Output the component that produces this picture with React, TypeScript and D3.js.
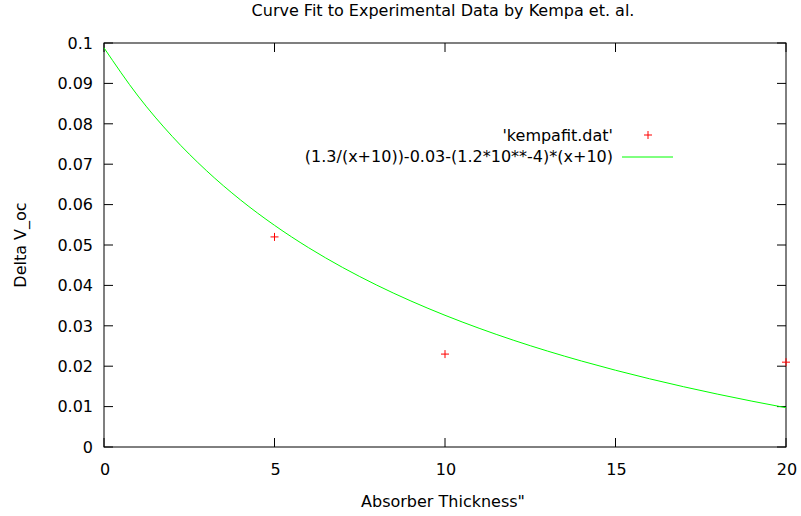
import React from "react";
import * as d3 from "d3";

const xTicks = [0, 5, 10, 15, 20];
const yTicks = [0, 0.01, 0.02, 0.03, 0.04, 0.05, 0.06, 0.07, 0.08, 0.09, 0.1];
const yTickLabels = ["0", "0.01", "0.02", "0.03", "0.04", "0.05", "0.06", "0.07", "0.08", "0.09", "0.1"];

const dataX = [5, 10, 20];
const dataY = [0.052, 0.023, 0.021];

const curveX = [0, 1, 2, 3, 4, 5, 6, 7, 8, 9, 10, 11, 12, 13, 14, 15, 16, 17, 18, 19, 20];
const curveY = [
  0.0988, 0.08686, 0.07689, 0.06844, 0.06118, 0.05487, 0.04933, 0.04443, 0.04006, 0.03614,
  0.0326, 0.02939, 0.02645, 0.02376, 0.02129, 0.019, 0.01688, 0.01491, 0.01307, 0.01135, 0.00973,
];

const title = "Curve Fit to Experimental Data by Kempa et. al.";
const xLabel = 'Absorber Thickness"';
const yLabel = "Delta V_oc";
const legend1 = "'kempafit.dat'";
const legend2 = "(1.3/(x+10))-0.03-(1.2*10**-4)*(x+10)";

export default function App() {
  const W = 801, H = 516;
  const L = 104, R = 786, T = 43, B = 447;
  const x = d3.scaleLinear().domain([0, 20]).range([L, R]);
  const y = d3.scaleLinear().domain([0, 0.1]).range([B, T]);
  const line = d3
    .line<number>()
    .x((_, i) => x(curveX[i]))
    .y((d) => y(d))
    .curve(d3.curveMonotoneX);
  const font = "'DejaVu Sans', sans-serif";
  const fs = 16;
  const tl = 9;
  const ax = "#000";
  const cross = (cx: number, cy: number, k: number) => (
    <g key={k} stroke="#ff0000" strokeWidth={1}>
      <line x1={cx - 4} x2={cx + 4} y1={cy} y2={cy} />
      <line x1={cx} x2={cx} y1={cy - 4} y2={cy + 4} />
    </g>
  );
  return (
    <svg
      width={W}
      height={H}
      style={{ position: "absolute", left: 0, top: 0, background: "#fff" }}
      fontFamily={font}
      fontSize={fs}
    >
      <rect x={0} y={0} width={W} height={H} fill="#fff" />
      {yTicks.map((t, i) => (
        <g key={"y" + i}>
          <line x1={L} x2={L + tl} y1={y(t)} y2={y(t)} stroke={ax} />
          <line x1={R} x2={R - tl} y1={y(t)} y2={y(t)} stroke={ax} />
          <text x={L - 11} y={y(t)} dy="0.36em" textAnchor="end" fill="#000">
            {yTickLabels[i]}
          </text>
        </g>
      ))}
      {xTicks.map((t, i) => (
        <g key={"x" + i}>
          <line x1={x(t)} x2={x(t)} y1={B} y2={B - tl} stroke={ax} />
          <line x1={x(t)} x2={x(t)} y1={T} y2={T + tl} stroke={ax} />
          <text x={x(t) + 1} y={B + 28} textAnchor="middle" fill="#000">
            {String(t)}
          </text>
        </g>
      ))}
      <rect x={L} y={T} width={R - L} height={B - T} fill="none" stroke={ax} strokeWidth={1} />
      <path d={line(curveY) || ""} fill="none" stroke="#00ff00" strokeWidth={1} />
      {dataX.map((d, i) => cross(x(d), y(dataY[i]), i))}
      <text x={613} y={141} textAnchor="end" fill="#000">{legend1}</text>
      {cross(648, 135, 99)}
      <text x={613} y={162} textAnchor="end" fill="#000">{legend2}</text>
      <line x1={622} x2={673} y1={157} y2={157} stroke="#00ff00" strokeWidth={1} />
      <text x={443} y={16} textAnchor="middle" fill="#000">{title}</text>
      <text x={443} y={507} textAnchor="middle" fill="#000">{xLabel}</text>
      <text
        transform={`translate(26,${(T + B) / 2}) rotate(-90)`}
        textAnchor="middle"
        fill="#000"
      >
        {yLabel}
      </text>
    </svg>
  );
}
